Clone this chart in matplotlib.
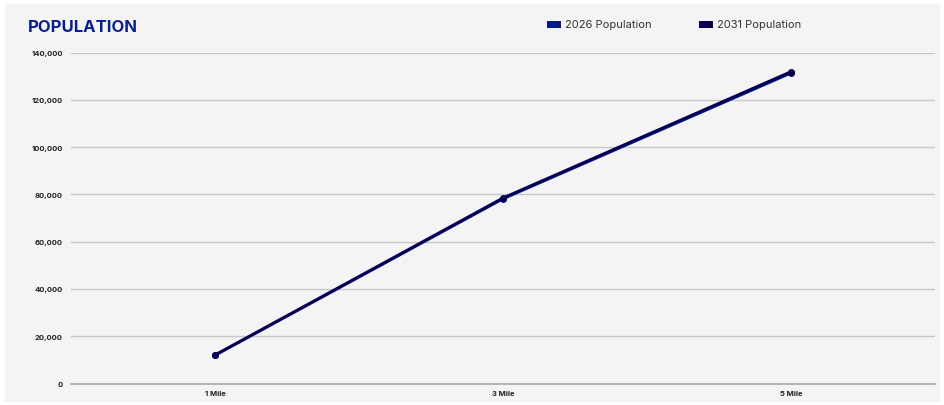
import matplotlib.pyplot as plt
from matplotlib.patches import Rectangle

categories = ["1 Mile", "3 Mile", "5 Mile"]
pop_2026 = [11900, 78100, 131300]
pop_2031 = [12100, 78500, 131900]
y_ticks = [0, 20000, 40000, 60000, 80000, 100000, 120000, 140000]

c2026 = "#001a8c"
c2031 = "#0b0050"

plt.rcParams['font.family'] = ['Inter', 'DejaVu Sans']

fig = plt.figure(figsize=(9.44, 4.06), dpi=100)
fig.patch.set_facecolor("white")
fig.patches.append(Rectangle((5 / 944, 3 / 406), 935 / 944, 398 / 406,
                             transform=fig.transFigure, facecolor="#f4f4f4",
                             edgecolor="none", zorder=-10))

ax = fig.add_axes([71 / 944, 1 - 384.5 / 406, 864 / 944, 331 / 406])
ax.set_facecolor("none")

x = range(len(categories))
ax.plot(x, pop_2026, color=c2026, lw=2.0, marker="o", ms=4, zorder=3)
ax.plot(x, pop_2031, color=c2031, lw=2.0, marker="o", ms=4, zorder=4)

ax.set_xlim(-0.5, 2.5)
ax.set_ylim(0, 140000)
ax.set_yticks(y_ticks)
ax.set_yticklabels([f"{v:,}" for v in y_ticks], fontsize=5.5, fontweight="bold", color="#222222")
ax.set_xticks(list(x))
ax.set_xticklabels(categories, fontsize=5.5, fontweight="bold", color="#222222")
ax.tick_params(length=0, pad=6)
ax.tick_params(axis="x", pad=5)
ax.grid(axis="y", color="#c8c8c8", lw=1)
for s in ["top", "right", "left"]:
    ax.spines[s].set_visible(False)
ax.spines["bottom"].set_color("#a8a8a8")
ax.spines["bottom"].set_linewidth(1.2)

fig.text(28 / 944, 1 - 27 / 406, "POPULATION", fontsize=12, fontweight="bold",
         color="#0a1f8f", va="center", ha="left")

for lx, label, col in [(547, "2026 Population", c2026), (699, "2031 Population", c2031)]:
    fig.patches.append(Rectangle((lx / 944, 1 - 28.5 / 406), 14 / 944, 7 / 406,
                                 transform=fig.transFigure, facecolor=col, edgecolor="none"))
    fig.text((lx + 18) / 944, 1 - 24.5 / 406, label, fontsize=8, color="#333333",
             va="center", ha="left")

fig.savefig("out.png", dpi=100)
